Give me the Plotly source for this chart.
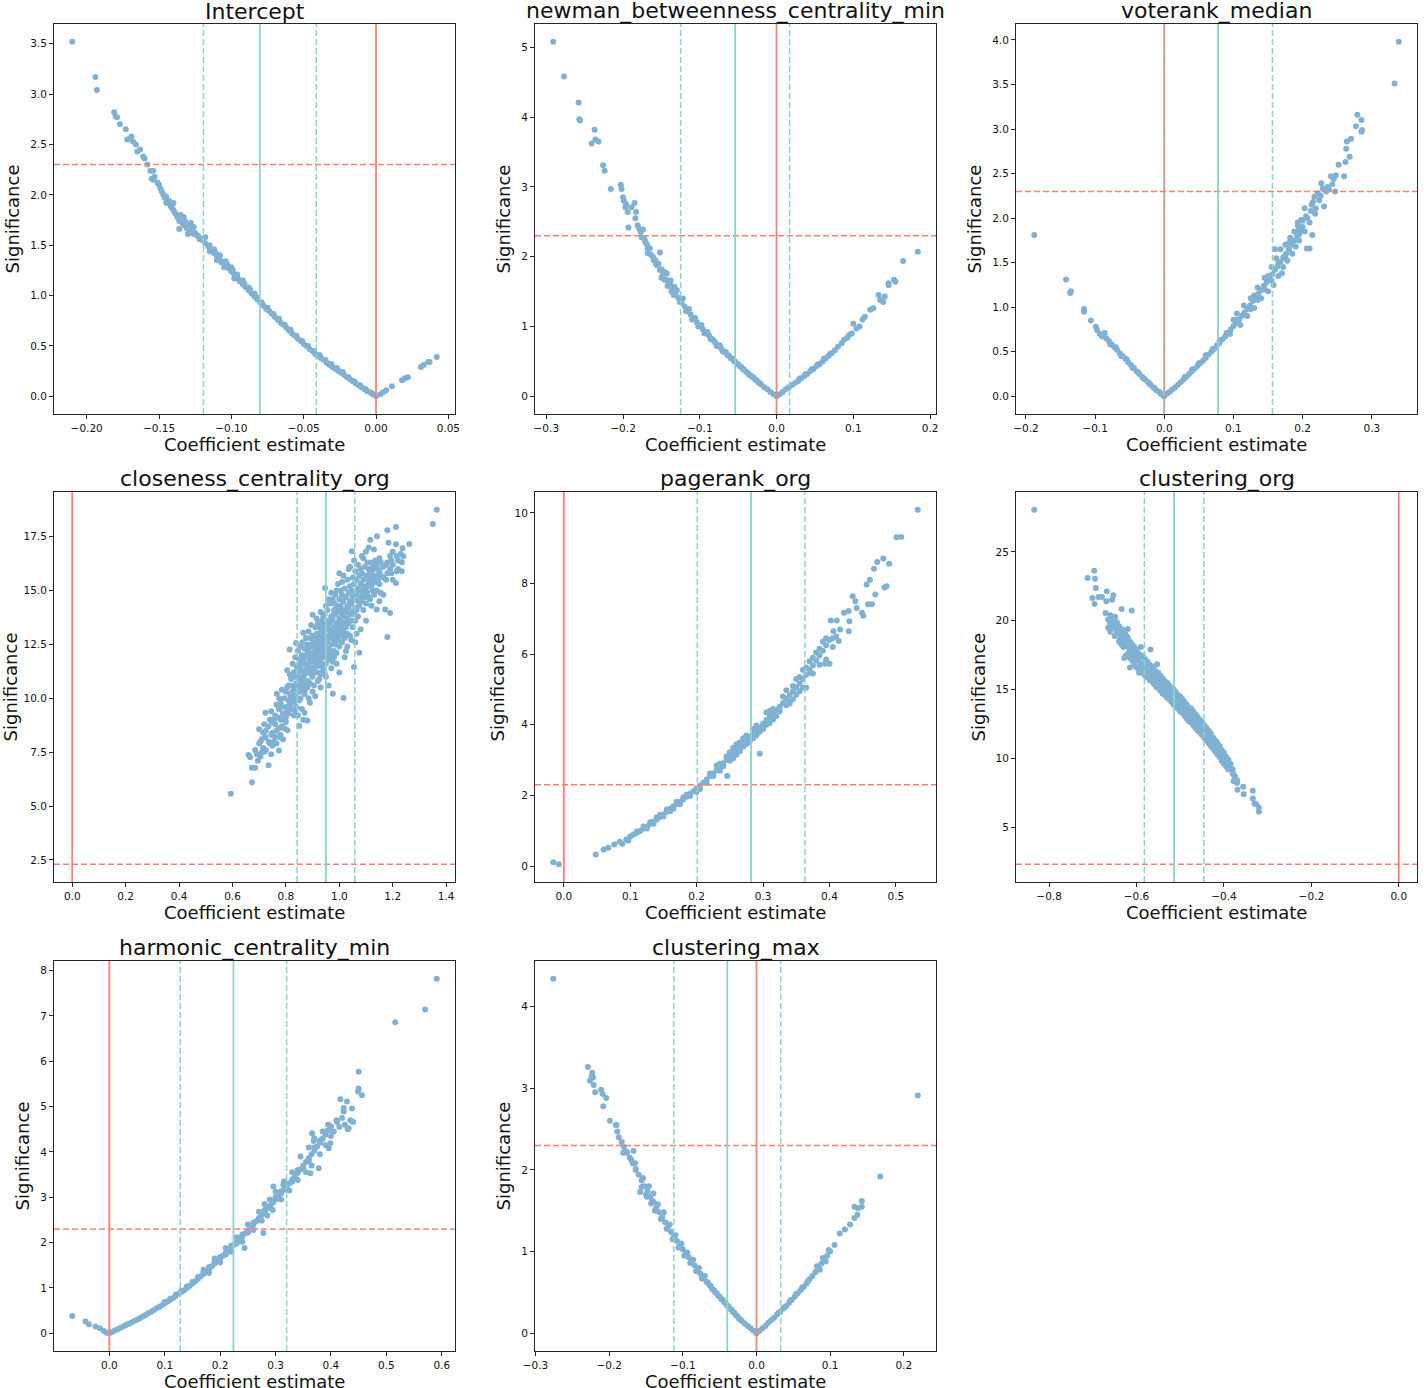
import plotly.graph_objects as go

# ---------------- data ----------------
titles = ["Intercept", "newman_betweenness_centrality_min", "voterank_median",
          "closeness_centrality_org", "pagerank_org", "clustering_org",
          "harmonic_centrality_min", "clustering_max"]

# mean coefficient (solid teal line) and its std (dashed teal lines)
coef_mean = [-0.0803, -0.054, 0.0778, 0.950, 0.282, -0.514, 0.224, -0.0397]
coef_std = [0.039, 0.071, 0.0786, 0.108, 0.081, 0.068, 0.096, 0.0726]
sig_threshold = 2.3

# tick labels
x_ticks = [[-0.20, -0.15, -0.10, -0.05, 0.00, 0.05],
           [-0.3, -0.2, -0.1, 0.0, 0.1, 0.2],
           [-0.2, -0.1, 0.0, 0.1, 0.2, 0.3],
           [0.0, 0.2, 0.4, 0.6, 0.8, 1.0, 1.2, 1.4],
           [0.0, 0.1, 0.2, 0.3, 0.4, 0.5],
           [-0.8, -0.6, -0.4, -0.2, 0.0],
           [0.0, 0.1, 0.2, 0.3, 0.4, 0.5, 0.6],
           [-0.3, -0.2, -0.1, 0.0, 0.1, 0.2]]
x_dec = [2, 1, 1, 1, 1, 1, 1, 1]
y_ticks = [[0.0, 0.5, 1.0, 1.5, 2.0, 2.5, 3.0, 3.5],
           [0, 1, 2, 3, 4, 5],
           [0.0, 0.5, 1.0, 1.5, 2.0, 2.5, 3.0, 3.5, 4.0],
           [2.5, 5.0, 7.5, 10.0, 12.5, 15.0, 17.5],
           [0, 2, 4, 6, 8, 10],
           [5, 10, 15, 20, 25],
           [0, 1, 2, 3, 4, 5, 6, 7, 8],
           [0, 1, 2, 3, 4]]
y_dec = [1, 0, 1, 1, 0, 0, 0, 0]

# points: each entry is (coefficient, significance, [more significances at same coefficient])
intercept_pts = [
    (-0.210, 3.52), (-0.194, 3.17), (-0.193, 3.04), (-0.181, 2.82), (-0.180, 2.78), (-0.179, 2.77),
    (-0.177, 2.70), (-0.173, 2.65), (-0.172, 2.55), (-0.170, 2.56), (-0.169, 2.58), (-0.168, 2.53),
    (-0.166, 2.50), (-0.165, 2.43), (-0.163, 2.45), (-0.161, 2.38), (-0.160, 2.36), (-0.158, 2.30),
    (-0.156, 2.24), (-0.155, 2.16), (-0.154, 2.24, 2.15), (-0.153, 2.18), (-0.151, 2.12), (-0.150, 2.10),
    (-0.149, 2.06), (-0.148, 2.03), (-0.147, 2.00), (-0.146, 1.97), (-0.145, 1.98, 1.92), (-0.144, 1.93),
    (-0.143, 1.94), (-0.142, 1.89), (-0.141, 1.87), (-0.140, 1.85, 1.92), (-0.139, 1.82), (-0.138, 1.80),
    (-0.137, 1.77), (-0.136, 1.74, 1.66), (-0.135, 1.80), (-0.134, 1.72), (-0.133, 1.70, 1.78),
    (-0.132, 1.74), (-0.131, 1.67), (-0.130, 1.69, 1.61), (-0.129, 1.65), (-0.128, 1.66, 1.72),
    (-0.127, 1.63), (-0.126, 1.61, 1.68), (-0.125, 1.62), (-0.124, 1.60), (-0.123, 1.59), (-0.122, 1.56),
    (-0.121, 1.57),
    (-0.120, 1.55), (-0.118, 1.52, 1.58), (-0.116, 1.49), (-0.115, 1.50), (-0.114, 1.45), (-0.112, 1.42, 1.46),
    (-0.110, 1.39, 1.35), (-0.108, 1.36, 1.40), (-0.106, 1.33), (-0.105, 1.28), (-0.104, 1.30, 1.34),
    (-0.102, 1.27), (-0.100, 1.24, 1.28), (-0.098, 1.21, 1.17), (-0.096, 1.18, 1.21), (-0.094, 1.14),
    (-0.092, 1.11, 1.15), (-0.090, 1.08), (-0.088, 1.05, 1.08), (-0.086, 1.02), (-0.084, 0.99, 1.02),
    (-0.082, 0.96), (-0.080, 0.93), (-0.078, 0.90), (-0.076, 0.87), (-0.074, 0.85), (-0.072, 0.82),
    (-0.070, 0.79), (-0.068, 0.76), (-0.066, 0.73), (-0.064, 0.71), (-0.062, 0.68), (-0.060, 0.65),
    (-0.058, 0.62), (-0.056, 0.60), (-0.054, 0.57), (-0.052, 0.55), (-0.050, 0.52), (-0.048, 0.50),
    (-0.046, 0.47), (-0.044, 0.45), (-0.042, 0.42), (-0.040, 0.40), (-0.038, 0.38), (-0.036, 0.36),
    (-0.034, 0.33), (-0.032, 0.31), (-0.030, 0.29), (-0.028, 0.27), (-0.026, 0.25), (-0.024, 0.23),
    (-0.022, 0.21), (-0.020, 0.19), (-0.018, 0.17), (-0.016, 0.15), (-0.014, 0.13), (-0.012, 0.11),
    (-0.010, 0.09), (-0.008, 0.07), (-0.006, 0.05), (-0.004, 0.04), (-0.002, 0.02), (0.000, 0.00),
    (-0.115, 1.44), (-0.111, 1.43), (-0.107, 1.33), (-0.103, 1.31), (-0.099, 1.25), (-0.095, 1.16),
    (-0.091, 1.12), (-0.087, 1.06), (-0.083, 0.99), (-0.079, 0.93), (-0.075, 0.88), (-0.071, 0.82),
    (-0.067, 0.77), (-0.063, 0.71), (-0.059, 0.66), (-0.055, 0.60), (-0.051, 0.55), (-0.047, 0.50),
    (-0.043, 0.45), (-0.039, 0.41), (-0.035, 0.36), (-0.031, 0.32), (-0.027, 0.28), (-0.023, 0.24),
    (-0.019, 0.19), (-0.015, 0.15), (-0.011, 0.11), (-0.007, 0.07), (-0.003, 0.03),
    (0.003, 0.02), (0.005, 0.04), (0.007, 0.06), (0.011, 0.10), (0.018, 0.16), (0.020, 0.18),
    (0.022, 0.19), (0.031, 0.29), (0.033, 0.31), (0.036, 0.34), (0.037, 0.34), (0.042, 0.39),
]

newman_pts = [
    (-0.291, 5.08), (-0.277, 4.58), (-0.258, 4.21), (-0.257, 3.97), (-0.256, 3.95), (-0.237, 3.82),
    (-0.241, 3.62), (-0.236, 3.68), (-0.232, 3.65), (-0.226, 3.31), (-0.224, 3.23), (-0.216, 2.97),
    (-0.203, 3.03), (-0.202, 2.97), (-0.200, 2.85), (-0.199, 2.80), (-0.197, 2.71), (-0.196, 2.75),
    (-0.194, 2.64), (-0.193, 2.42), (-0.189, 2.71), (-0.185, 2.77), (-0.183, 2.64), (-0.184, 2.55),
    (-0.181, 2.45), (-0.179, 2.40), (-0.177, 2.35), (-0.174, 2.39), (-0.176, 2.28), (-0.172, 2.25),
    (-0.171, 2.21), (-0.169, 2.18), (-0.165, 2.12), (-0.168, 2.05), (-0.161, 2.00), (-0.152, 2.06),
    (-0.157, 1.90), (-0.150, 1.82), (-0.143, 1.76), (-0.146, 1.67), (-0.139, 1.62), (-0.133, 1.57),
    (-0.137, 1.50),
    (-0.168, 2.11), (-0.164, 2.03), (-0.160, 1.95), (-0.156, 1.88), (-0.152, 1.81), (-0.148, 1.74),
    (-0.144, 1.67), (-0.140, 1.60), (-0.136, 1.53), (-0.132, 1.47), (-0.128, 1.41), (-0.124, 1.35),
    (-0.120, 1.29), (-0.116, 1.23), (-0.112, 1.17), (-0.108, 1.11), (-0.104, 1.06), (-0.100, 1.01),
    (-0.096, 0.96), (-0.092, 0.91), (-0.088, 0.87), (-0.084, 0.82), (-0.080, 0.77), (-0.076, 0.72),
    (-0.072, 0.68), (-0.068, 0.64), (-0.064, 0.59), (-0.060, 0.55), (-0.056, 0.51), (-0.052, 0.47),
    (-0.048, 0.43), (-0.044, 0.39), (-0.040, 0.35), (-0.036, 0.31), (-0.032, 0.28), (-0.028, 0.24),
    (-0.024, 0.20), (-0.020, 0.17), (-0.016, 0.13), (-0.012, 0.10), (-0.008, 0.06), (-0.004, 0.03),
    (0.000, 0.00),
    (-0.158, 1.95), (-0.154, 1.90), (-0.150, 1.70), (-0.146, 1.78), (-0.142, 1.58), (-0.138, 1.66),
    (-0.134, 1.45), (-0.130, 1.52), (-0.126, 1.35), (-0.122, 1.40), (-0.118, 1.22), (-0.114, 1.25),
    (-0.110, 1.10), (-0.106, 1.12), (-0.102, 1.00), (-0.098, 1.02), (-0.094, 0.90), (-0.090, 0.92),
    (-0.086, 0.82), (-0.082, 0.80), (-0.078, 0.72), (-0.074, 0.73), (-0.070, 0.64),
    (-0.066, 0.63), (-0.062, 0.58), (-0.058, 0.54), (-0.054, 0.50), (-0.050, 0.46), (-0.046, 0.42),
    (-0.042, 0.38), (-0.038, 0.34), (-0.034, 0.30), (-0.030, 0.27), (-0.026, 0.23), (-0.022, 0.19),
    (0.004, 0.03), (0.008, 0.06), (0.012, 0.10), (0.016, 0.13), (0.020, 0.16), (0.024, 0.19),
    (0.028, 0.22), (0.032, 0.26), (0.036, 0.29), (0.040, 0.32), (0.044, 0.36), (0.048, 0.39),
    (0.052, 0.43), (0.056, 0.46), (0.060, 0.50), (0.064, 0.54), (0.068, 0.58), (0.072, 0.62),
    (0.076, 0.66), (0.080, 0.71), (0.085, 0.76), (0.088, 0.81), (0.092, 0.84), (0.095, 0.88),
    (0.030, 0.25), (0.038, 0.32), (0.046, 0.39), (0.054, 0.46), (0.062, 0.54), (0.070, 0.61),
    (0.098, 0.90), (0.100, 1.04), (0.104, 0.97), (0.108, 1.00), (0.112, 1.10), (0.115, 1.14),
    (0.122, 1.24), (0.126, 1.26), (0.133, 1.45), (0.135, 1.38), (0.139, 1.35), (0.141, 1.43),
    (0.146, 1.59, 1.62), (0.153, 1.67), (0.155, 1.64), (0.165, 1.94), (0.184, 2.07),
]

voterank_pts = [
    (-0.188, 1.81), (-0.142, 1.31), (-0.135, 1.18), (-0.136, 1.16), (-0.116, 0.98, 0.95), (-0.106, 0.85),
    (-0.099, 0.78), (-0.097, 0.74), (-0.086, 0.71), (-0.090, 0.67), (-0.093, 0.70),
    (-0.084, 0.65), (-0.080, 0.62), (-0.076, 0.58), (-0.072, 0.55), (-0.068, 0.52), (-0.064, 0.48),
    (-0.060, 0.45), (-0.056, 0.42), (-0.052, 0.38), (-0.048, 0.35), (-0.044, 0.32), (-0.040, 0.28),
    (-0.036, 0.25), (-0.032, 0.22), (-0.028, 0.19), (-0.024, 0.16), (-0.020, 0.13), (-0.016, 0.10),
    (-0.012, 0.07), (-0.008, 0.05), (-0.004, 0.02), (0.000, 0.00),
    (-0.078, 0.58), (-0.070, 0.55), (-0.062, 0.45), (-0.054, 0.41), (-0.046, 0.32), (-0.038, 0.27),
    (-0.030, 0.20), (-0.022, 0.15), (-0.014, 0.09), (-0.006, 0.04),
    (0.004, 0.03), (0.008, 0.05), (0.012, 0.08), (0.016, 0.10), (0.020, 0.13), (0.024, 0.16),
    (0.028, 0.19), (0.032, 0.22), (0.036, 0.25), (0.040, 0.28), (0.044, 0.31), (0.048, 0.34),
    (0.052, 0.37), (0.056, 0.40), (0.060, 0.43), (0.064, 0.47), (0.068, 0.50), (0.072, 0.53),
    (0.076, 0.57), (0.080, 0.60), (0.084, 0.64), (0.088, 0.67), (0.092, 0.71), (0.096, 0.75),
    (0.100, 0.79), (0.104, 0.82), (0.108, 0.86), (0.112, 0.90), (0.116, 0.94), (0.120, 0.98),
    (0.124, 1.02), (0.128, 1.07), (0.132, 1.11), (0.136, 1.15), (0.140, 1.19), (0.144, 1.24),
    (0.148, 1.28), (0.152, 1.32), (0.156, 1.37), (0.160, 1.42), (0.164, 1.46), (0.168, 1.51),
    (0.172, 1.56), (0.176, 1.60), (0.180, 1.65), (0.184, 1.70), (0.188, 1.75), (0.192, 1.80),
    (0.196, 1.85), (0.200, 1.90),
    (0.030, 0.22), (0.040, 0.30), (0.050, 0.37), (0.060, 0.46), (0.070, 0.53), (0.080, 0.63),
    (0.090, 0.71), (0.095, 0.70), (0.105, 0.86), (0.115, 0.92), (0.125, 0.98), (0.130, 1.13),
    (0.135, 1.08), (0.145, 1.20), (0.150, 1.35), (0.155, 1.30), (0.165, 1.50), (0.175, 1.55),
    (0.180, 1.72), (0.185, 1.75), (0.195, 1.82),
    (0.100, 0.86), (0.105, 0.93), (0.110, 0.80), (0.115, 1.02), (0.120, 0.90), (0.125, 1.10),
    (0.130, 0.99), (0.135, 1.22), (0.140, 1.10), (0.145, 1.33), (0.150, 1.18), (0.155, 1.45),
    (0.158, 1.25), (0.162, 1.55), (0.165, 1.35), (0.168, 1.65), (0.172, 1.45), (0.175, 1.70),
    (0.178, 1.52), (0.182, 1.78), (0.185, 1.60), (0.188, 1.85), (0.190, 1.68), (0.193, 1.95),
    (0.195, 1.75), (0.198, 1.98), (0.203, 1.85), (0.205, 2.02), (0.210, 1.95), (0.213, 2.15),
    (0.218, 2.05), (0.206, 1.66), (0.160, 1.65), (0.170, 1.38),
    (0.203, 2.11), (0.207, 2.00), (0.214, 1.81), (0.210, 1.66), (0.198, 1.98), (0.193, 1.92),
    (0.217, 2.24), (0.222, 2.28), (0.231, 2.13), (0.227, 2.39), (0.241, 2.47), (0.236, 2.35),
    (0.248, 2.48), (0.234, 2.30), (0.224, 2.20), (0.219, 2.11), (0.245, 2.44), (0.243, 2.38),
    (0.238, 2.32), (0.229, 2.33), (0.226, 2.25), (0.215, 2.18), (0.212, 2.08), (0.200, 1.97),
    (0.195, 1.88),
    (0.279, 3.16), (0.277, 3.03), (0.285, 3.10), (0.285, 2.97), (0.286, 2.99), (0.270, 2.89),
    (0.264, 2.86), (0.263, 2.78), (0.268, 2.69), (0.262, 2.63), (0.252, 2.60), (0.260, 2.47),
    (0.247, 2.30), (0.333, 3.51), (0.339, 3.98),
]

closeness_pts = [
    (0.594, 5.57), (0.660, 7.37), (0.666, 7.27), (0.673, 6.10, 6.78), (0.685, 6.78, 7.6), (0.691, 7.4),
    (0.700, 8.56, 7.9), (0.710, 7.5, 8.1), (0.719, 7.52, 8.8), (0.723, 9.33, 8.2), (0.735, 6.89, 8.0, 8.7),
    (0.740, 7.9, 9.0), (0.750, 8.4, 8.9, 7.8), (0.760, 8.2, 9.2, 8.8), (0.766, 10.21),
    (0.774, 7.58, 8.6, 9.5), (0.780, 9.0, 8.3, 9.8), (0.789, 8.1, 9.3), (0.800, 9.6, 10.3, 8.9, 9.1),
    (0.806, 8.52), (0.810, 9.9, 10.6, 9.3), (0.814, 12.26), (0.820, 10.1, 10.9, 9.5, 11.0),
    (0.830, 9.8, 10.4, 11.2, 9.2), (0.838, 12.57), (0.840, 10.7, 11.5, 10.0, 9.6),
    (0.850, 11.0, 10.3, 11.8, 8.71, 9.9), (0.860, 11.3, 10.6, 12.0, 9.5, 10.9), (0.865, 13.04),
    (0.870, 11.6, 10.8, 12.3, 9.33, 10.2, 11.1), (0.880, 11.9, 11.2, 12.5, 8.97, 10.5, 11.5),
    (0.890, 12.1, 11.4, 10.7, 12.8, 9.8, 11.8), (0.900, 12.4, 11.7, 13.88, 11.0, 10.3, 12.9),
    (0.910, 12.6, 11.9, 11.2, 13.3, 10.1, 12.2), (0.920, 12.0, 12.8, 11.5, 13.5, 10.8, 12.3),
    (0.930, 12.2, 13.0, 11.7, 14.0, 10.5, 11.1), (0.940, 12.5, 13.2, 11.9, 13.8, 11.3, 12.7),
    (0.947, 15.12), (0.950, 12.7, 13.4, 12.1, 14.3, 11.0, 11.6), (0.960, 12.9, 13.6, 12.3, 14.6, 11.8, 10.6),
    (0.970, 13.1, 13.8, 12.5, 11.4, 14.9, 12.0), (0.976, 10.21), (0.980, 13.3, 12.7, 14.1, 11.9, 12.2, 13.9),
    (0.990, 13.5, 12.9, 14.3, 12.1, 15.0, 11.6), (1.000, 13.7, 15.8, 13.1, 12.4, 14.6, 11.2),
    (1.010, 13.9, 13.3, 14.8, 12.6, 15.4), (1.016, 10.02), (1.020, 14.1, 13.5, 12.8, 15.1, 11.9),
    (1.030, 14.3, 13.7, 13.0, 15.5, 12.4), (1.040, 14.5, 13.9, 15.2, 12.9, 16.1), (1.047, 16.82),
    (1.050, 14.7, 14.0, 15.6, 13.3), (1.055, 11.45), (1.060, 14.9, 14.2, 15.9, 13.6, 12.6),
    (1.070, 15.1, 14.5, 16.2, 13.8), (1.075, 12.11), (1.080, 15.3, 14.7, 16.0, 13.2),
    (1.090, 15.5, 14.9, 16.5, 14.1), (1.100, 15.7, 15.1, 14.4, 16.8, 13.6), (1.110, 15.4, 16.0, 14.7, 17.0),
    (1.116, 17.36), (1.120, 15.8, 15.2, 16.3, 14.3), (1.130, 16.0, 15.5, 14.8, 16.9), (1.141, 17.52),
    (1.140, 15.7, 16.2, 15.0, 14.12), (1.150, 15.9, 16.5, 15.3, 14.5), (1.165, 14.81, 16.1, 15.6),
    (1.172, 14.12), (1.180, 16.3, 15.8, 12.85, 17.8), (1.184, 17.22), (1.190, 16.0, 16.6, 13.96),
    (1.200, 16.2, 15.5, 16.8), (1.212, 17.95, 17.15, 15.35), (1.220, 16.4, 16.0), (1.234, 16.31, 15.9),
    (1.237, 16.96), (1.240, 16.59), (1.262, 17.16), (1.350, 18.09), (1.365, 18.75),
    (0.695, 7.1), (0.705, 8.0, 7.3), (0.715, 8.4, 7.7), (0.725, 7.6, 8.5), (0.745, 8.3, 9.4, 7.4),
    (0.755, 9.0, 8.0), (0.765, 8.5, 9.7, 7.9), (0.775, 9.1, 8.2, 10.0), (0.785, 9.6, 8.7, 10.4),
    (0.795, 10.0, 9.0, 8.6), (0.805, 10.5, 9.4, 11.3), (0.815, 10.2, 9.7, 11.1),
    (0.825, 10.6, 11.6, 9.9, 10.3), (0.835, 11.0, 10.1, 11.9, 9.4), (0.845, 11.2, 10.5, 12.2, 9.2),
    (0.855, 11.5, 10.8, 12.4, 10.0), (0.865, 11.8, 11.0, 10.4, 9.0), (0.875, 12.0, 11.3, 12.8, 10.6),
    (0.885, 12.3, 11.6, 13.1, 10.0), (0.895, 12.5, 11.8, 13.4, 11.1), (0.905, 12.8, 12.1, 11.4, 10.6),
    (0.915, 13.0, 12.4, 11.7, 13.7), (0.925, 12.6, 13.3, 11.9, 10.9), (0.935, 12.9, 13.6, 12.2, 11.5),
    (0.945, 13.1, 13.9, 12.4, 11.2), (0.955, 13.3, 14.1, 12.6, 11.9), (0.965, 13.5, 12.8, 14.4, 12.2),
    (0.975, 13.7, 13.0, 14.6, 11.7), (0.985, 13.9, 13.2, 12.5, 14.8), (0.995, 14.1, 13.4, 12.7, 15.3),
    (1.005, 14.3, 13.6, 12.9, 15.0), (1.015, 14.5, 13.8, 13.1, 15.7), (1.025, 14.7, 14.0, 13.3, 12.2),
    (1.035, 14.9, 14.2, 13.5, 16.0), (1.045, 15.0, 14.4, 13.6, 12.7), (1.055, 15.3, 14.6, 13.9, 16.4),
    (1.065, 15.5, 14.8, 14.1, 13.0), (1.075, 15.7, 15.0, 14.3), (1.085, 15.0, 15.8, 14.5, 16.6),
    (1.095, 15.2, 16.1, 14.7), (1.105, 15.6, 16.3, 14.9), (1.115, 15.9, 15.3, 14.6),
    (1.125, 16.1, 15.6, 15.0), (1.135, 16.4, 15.4), (1.145, 16.0, 15.5), (1.155, 16.3, 15.7, 14.9),
    (1.175, 16.2, 15.5), (1.195, 16.4, 15.8), (1.215, 16.6, 15.9), (1.230, 16.7),
    (0.842, 11.3, 10.4), (0.852, 10.9, 11.6), (0.862, 11.0, 12.6), (0.872, 11.9, 10.4),
    (0.882, 12.2, 10.8), (0.892, 11.2, 12.0), (0.902, 11.4, 12.6), (0.912, 12.4, 11.6),
    (0.922, 12.7, 11.2), (0.932, 12.4, 13.2), (0.942, 12.1, 13.4), (0.952, 12.9, 12.3),
    (0.962, 13.2, 12.0), (0.972, 12.8, 13.6), (0.982, 13.0, 14.4), (0.992, 13.2, 14.0),
    (1.002, 13.5, 14.2), (1.012, 14.0, 13.0),
]

pagerank_pts = [
    (-0.016, 0.11), (-0.0075, 0.05), (0.048, 0.33), (0.060, 0.47), (0.067, 0.52), (0.076, 0.61),
    (0.084, 0.69), (0.088, 0.63), (0.094, 0.75), (0.097, 0.72),
    (0.100, 0.84), (0.105, 0.89), (0.110, 0.94, 0.98), (0.115, 0.99), (0.120, 1.06, 1.12), (0.125, 1.12, 1.06),
    (0.130, 1.19, 1.24), (0.135, 1.26, 1.20), (0.140, 1.32, 1.38), (0.145, 1.39, 1.45), (0.150, 1.46, 1.40),
    (0.155, 1.54, 1.60), (0.160, 1.62, 1.55), (0.165, 1.69, 1.62), (0.170, 1.76, 1.82), (0.175, 1.82, 1.75),
    (0.180, 1.89, 1.95), (0.185, 1.97, 2.02), (0.190, 2.05, 1.98), (0.195, 2.12), (0.200, 2.20, 2.10),
    (0.205, 2.28, 2.18), (0.210, 2.36), (0.215, 2.45, 2.35), (0.220, 2.54, 2.62), (0.225, 2.62, 2.55),
    (0.230, 2.71, 2.85), (0.235, 2.81, 2.70, 2.90), (0.240, 2.91, 2.82), (0.245, 3.00, 3.10),
    (0.246, 2.55), (0.250, 3.10, 3.22, 2.98), (0.255, 3.20, 3.35, 3.05), (0.260, 3.30, 3.15, 3.45),
    (0.265, 3.39, 3.25, 3.50), (0.270, 3.49, 3.62, 3.38), (0.275, 3.57, 3.70, 3.45), (0.280, 3.67, 3.52),
    (0.285, 3.76, 3.62, 3.88), (0.290, 3.85, 3.98, 3.70), (0.295, 3.93, 3.18, 3.80), (0.300, 4.03, 3.88),
    (0.305, 4.13, 4.35, 4.00), (0.310, 4.23, 4.40, 4.05), (0.315, 4.33, 4.15, 4.45), (0.320, 4.42, 4.25),
    (0.325, 4.51, 4.38), (0.330, 4.62, 4.80), (0.335, 4.73, 4.98, 4.55), (0.340, 4.84, 4.65, 4.60),
    (0.345, 4.95, 4.72, 5.10), (0.350, 5.06, 5.30, 4.85), (0.355, 5.17, 4.95, 5.35), (0.360, 5.30, 5.55, 5.05),
    (0.365, 5.42, 5.05, 5.62), (0.370, 5.55, 5.80), (0.371, 5.47), (0.375, 5.68, 5.45, 5.90),
    (0.380, 5.82, 6.05), (0.385, 5.96, 5.70, 6.15), (0.390, 6.10, 6.35), (0.393, 5.73),
    (0.395, 6.25, 5.85, 6.45), (0.400, 6.40, 5.73), (0.405, 6.20, 6.45), (0.410, 6.50),
    (0.402, 6.95), (0.411, 6.95), (0.406, 6.65), (0.414, 6.37), (0.416, 6.70), (0.429, 6.65, 7.22),
    (0.422, 7.17), (0.430, 6.93), (0.435, 7.64), (0.439, 7.50), (0.441, 7.31), (0.449, 7.17),
    (0.451, 7.09), (0.456, 7.97), (0.458, 7.41), (0.464, 7.41), (0.461, 8.11), (0.469, 7.69),
    (0.467, 8.42), (0.472, 8.61), (0.481, 8.71), (0.483, 7.89), (0.486, 7.92), (0.490, 8.56),
    (0.501, 9.31), (0.508, 9.32), (0.533, 10.09),
]

clustering_org_pts = [
    (-0.834, 28.07), (-0.712, 23.11), (-0.697, 23.64), (-0.695, 23.06), (-0.693, 22.38), (-0.701, 21.66),
    (-0.696, 21.22), (-0.687, 21.73), (-0.679, 21.73), (-0.668, 22.15), (-0.669, 21.42), (-0.653, 21.85),
    (-0.656, 21.53), (-0.634, 20.86), (-0.611, 20.74), (-0.671, 20.57), (-0.660, 19.96), (-0.629, 18.14),
    (-0.602, 17.91), (-0.594, 16.22), (-0.568, 17.91), (-0.553, 16.83),
    (-0.649, 20.3), (-0.644, 19.2), (-0.620, 19.4), (-0.628, 17.3), (-0.615, 16.6), (-0.590, 18.1),
    (-0.665, 20.1, 19.5), (-0.660, 19.8, 20.4, 19.2), (-0.655, 19.6, 20.2), (-0.650, 19.5, 20.0, 18.9),
    (-0.645, 19.3, 19.9), (-0.640, 19.1, 19.6, 18.5), (-0.635, 18.9, 19.4, 18.3), (-0.630, 18.6, 19.3, 18.1),
    (-0.625, 18.4, 17.43, 19.0), (-0.620, 18.2, 18.8, 17.6), (-0.615, 17.9, 18.5, 17.3),
    (-0.610, 17.7, 18.3, 17.1), (-0.605, 17.4, 18.1, 16.8), (-0.600, 17.2, 17.8, 16.6),
    (-0.595, 17.1, 17.6, 16.5), (-0.590, 16.9, 17.5, 16.3), (-0.585, 16.8, 17.4, 16.2),
    (-0.580, 16.6, 17.2, 16.0), (-0.575, 16.4, 17.0, 15.9), (-0.570, 16.3, 16.8, 15.7),
    (-0.565, 16.1, 16.7, 15.6), (-0.560, 15.9, 16.5, 15.4), (-0.555, 15.8, 16.3, 15.2),
    (-0.550, 15.6, 16.2, 15.1), (-0.545, 15.4, 16.0, 14.9), (-0.540, 15.2, 15.8, 14.7),
    (-0.535, 15.1, 15.6, 14.6), (-0.530, 14.9, 15.5, 14.4), (-0.525, 14.8, 15.3, 14.3),
    (-0.520, 14.6, 15.1, 14.1), (-0.515, 14.4, 15.0, 13.9), (-0.510, 14.3, 14.8, 13.8),
    (-0.505, 14.1, 14.6, 13.6), (-0.500, 13.9, 14.5, 13.4), (-0.495, 13.8, 14.3, 13.3),
    (-0.490, 13.6, 14.1, 13.1), (-0.485, 13.4, 13.9, 12.9), (-0.480, 13.2, 13.7, 12.7),
    (-0.475, 13.1, 13.6, 12.6), (-0.470, 12.9, 13.4, 12.4), (-0.465, 12.7, 13.2, 12.2),
    (-0.460, 12.5, 13.0, 12.0), (-0.455, 12.3, 12.8, 11.9), (-0.450, 12.1, 12.6, 11.7),
    (-0.445, 11.9, 12.4, 11.5), (-0.440, 11.7, 12.2, 11.3), (-0.435, 11.5, 12.0, 11.1),
    (-0.430, 11.3, 11.8, 10.9), (-0.425, 11.1, 11.5, 10.7), (-0.420, 10.9, 11.3, 10.5),
    (-0.415, 10.7, 11.1, 10.3), (-0.410, 10.5, 10.9, 10.1), (-0.405, 10.2, 10.6, 9.8),
    (-0.400, 10.0, 10.4, 9.6), (-0.395, 9.8, 10.1, 9.4), (-0.390, 9.5, 9.9, 9.2), (-0.385, 9.3, 9.6),
    (-0.380, 8.9, 9.2), (-0.375, 8.7, 8.5), (-0.370, 8.4, 8.2),
    (-0.6475, 19.6), (-0.6375, 18.7), (-0.6275, 18.8), (-0.6175, 18.0), (-0.6075, 17.3), (-0.5975, 17.4),
    (-0.5875, 16.6), (-0.5775, 16.8), (-0.5675, 16.0), (-0.5575, 16.1), (-0.5475, 15.3), (-0.5375, 15.5),
    (-0.5275, 14.6), (-0.5175, 14.9), (-0.5075, 14.0), (-0.4975, 14.2), (-0.4875, 13.3), (-0.4775, 13.5),
    (-0.4675, 12.6), (-0.4575, 12.8), (-0.4475, 11.8), (-0.4375, 12.0), (-0.4275, 11.0), (-0.4175, 11.2),
    (-0.4075, 10.2), (-0.3975, 10.1), (-0.3875, 9.2), (-0.3775, 8.8),
    (-0.378, 8.36), (-0.369, 7.71), (-0.356, 7.93), (-0.355, 7.39), (-0.334, 7.64, 7.08),
    (-0.330, 6.72), (-0.320, 6.43, 6.11), (-0.326, 6.67),
]

harmonic_pts = [
    (-0.067, 0.38), (-0.043, 0.26), (-0.037, 0.20), (-0.025, 0.15), (-0.017, 0.11), (-0.010, 0.05),
    (-0.005, 0.01), (0.000, 0.00),
    (0.005, 0.03), (0.010, 0.06), (0.015, 0.09), (0.020, 0.12), (0.025, 0.15), (0.030, 0.18),
    (0.035, 0.21), (0.040, 0.24), (0.045, 0.27), (0.050, 0.30), (0.055, 0.33), (0.060, 0.37),
    (0.065, 0.40), (0.070, 0.44), (0.075, 0.47), (0.080, 0.51), (0.085, 0.55), (0.090, 0.58),
    (0.095, 0.62), (0.100, 0.66, 0.69), (0.105, 0.70), (0.110, 0.74, 0.76), (0.115, 0.78), (0.120, 0.82, 0.85),
    (0.125, 0.87), (0.130, 0.91, 0.93), (0.135, 0.95), (0.140, 1.00, 1.03), (0.145, 1.05), (0.150, 1.10, 1.13),
    (0.155, 1.15), (0.160, 1.20, 1.24), (0.165, 1.26), (0.170, 1.31, 1.40, 1.34), (0.175, 1.37),
    (0.180, 1.42, 1.33, 1.46), (0.185, 1.48), (0.190, 1.54, 1.65, 1.57), (0.195, 1.60),
    (0.200, 1.65, 1.56, 1.68), (0.205, 1.71), (0.210, 1.77, 1.88, 1.74), (0.215, 1.83),
    (0.220, 1.89, 1.80, 1.93), (0.225, 1.95), (0.230, 2.01, 2.12, 1.98), (0.235, 2.07),
    (0.240, 2.13, 2.02, 2.18), (0.245, 2.20), (0.250, 2.26, 2.40, 2.22), (0.255, 2.33),
    (0.260, 2.40, 2.28, 2.44), (0.265, 2.47), (0.270, 2.54, 2.68, 2.50), (0.275, 2.61, 2.48),
    (0.280, 2.68, 2.85, 2.72), (0.285, 2.75, 2.60), (0.290, 2.82, 2.95, 2.78), (0.295, 2.88, 2.72),
    (0.300, 2.95, 3.12, 3.00), (0.305, 3.02), (0.310, 3.09, 2.95, 3.13), (0.315, 3.16, 3.35),
    (0.320, 3.24, 3.30), (0.325, 3.31, 3.15), (0.330, 3.39, 3.55, 3.34), (0.335, 3.46),
    (0.340, 3.54, 3.38, 3.60), (0.345, 3.62, 3.90), (0.350, 3.70, 3.64), (0.355, 3.78, 3.55),
    (0.360, 3.86, 4.10, 3.80), (0.365, 3.95, 3.70), (0.370, 4.03, 4.30, 4.10), (0.375, 4.12),
    (0.380, 4.20, 3.95, 4.25), (0.385, 4.29, 4.45), (0.390, 4.38, 4.15, 4.45), (0.395, 4.47, 4.60),
    (0.400, 4.56, 4.35), (0.410, 4.70), (0.415, 4.55), (0.420, 4.75), (0.425, 4.60), (0.430, 4.50),
    (0.435, 4.70),
    (0.516, 6.86), (0.570, 7.14), (0.591, 7.82), (0.450, 5.77, 5.40), (0.456, 5.25), (0.449, 5.33),
    (0.417, 5.16), (0.429, 5.11), (0.423, 4.97, 4.89), (0.438, 4.96), (0.432, 4.52), (0.405, 4.45),
    (0.396, 4.08), (0.411, 4.66), (0.366, 4.41), (0.369, 4.24), (0.399, 4.19), (0.378, 3.64),
    (0.363, 3.53), (0.278, 2.21), (0.244, 1.88), (0.296, 3.24), (0.314, 3.27), (0.440, 4.66),
]

clustering_max_pts = [
    (-0.276, 4.34), (-0.229, 3.26), (-0.226, 3.09), (-0.224, 3.14), (-0.222, 3.13), (-0.223, 3.19),
    (-0.221, 3.04), (-0.219, 2.95), (-0.211, 2.98), (-0.209, 2.93), (-0.208, 2.78), (-0.204, 2.88),
    (-0.199, 2.60), (-0.191, 2.55), (-0.190, 2.55), (-0.189, 2.47), (-0.187, 2.40), (-0.183, 2.34),
    (-0.180, 2.28), (-0.181, 2.21), (-0.176, 2.21), (-0.167, 2.23), (-0.170, 2.12), (-0.165, 2.08),
    (-0.164, 2.00), (-0.154, 1.90), (-0.156, 1.79), (-0.158, 1.73), (-0.149, 1.67), (-0.140, 1.71),
    (-0.143, 1.59),
    (-0.176, 2.22), (-0.172, 2.15), (-0.168, 2.08), (-0.164, 2.01), (-0.160, 1.94), (-0.156, 1.87),
    (-0.152, 1.80), (-0.148, 1.74), (-0.144, 1.67), (-0.140, 1.61), (-0.136, 1.54), (-0.132, 1.48),
    (-0.128, 1.42), (-0.124, 1.36), (-0.120, 1.30), (-0.116, 1.24), (-0.112, 1.18), (-0.108, 1.13),
    (-0.104, 1.08), (-0.100, 1.03), (-0.096, 0.98), (-0.092, 0.93), (-0.088, 0.88), (-0.084, 0.83),
    (-0.080, 0.78), (-0.076, 0.73), (-0.072, 0.68), (-0.068, 0.63), (-0.064, 0.59), (-0.060, 0.54),
    (-0.056, 0.50), (-0.052, 0.46), (-0.048, 0.42), (-0.044, 0.38), (-0.040, 0.34), (-0.036, 0.30),
    (-0.032, 0.26), (-0.028, 0.22), (-0.024, 0.18), (-0.020, 0.15), (-0.016, 0.12), (-0.012, 0.09),
    (-0.008, 0.06), (-0.004, 0.03), (0.000, 0.00),
    (-0.150, 1.70), (-0.146, 1.80), (-0.142, 1.62), (-0.138, 1.50), (-0.134, 1.58), (-0.130, 1.40),
    (-0.126, 1.48), (-0.122, 1.28), (-0.118, 1.33), (-0.114, 1.15), (-0.110, 1.20), (-0.106, 1.05),
    (-0.102, 1.10), (-0.098, 0.95), (-0.094, 0.99), (-0.090, 0.86), (-0.086, 0.90), (-0.082, 0.76),
    (-0.078, 0.80), (-0.074, 0.67), (-0.070, 0.70),
    (-0.066, 0.62), (-0.062, 0.58), (-0.058, 0.53), (-0.054, 0.49), (-0.050, 0.45), (-0.046, 0.41),
    (-0.042, 0.37), (-0.038, 0.33), (-0.034, 0.29), (-0.030, 0.25), (-0.026, 0.21), (-0.022, 0.17),
    (0.004, 0.03), (0.008, 0.06), (0.012, 0.09), (0.016, 0.13), (0.020, 0.16), (0.024, 0.19),
    (0.028, 0.23), (0.032, 0.26), (0.036, 0.30), (0.040, 0.33), (0.044, 0.37), (0.048, 0.41),
    (0.052, 0.45), (0.056, 0.49), (0.060, 0.53), (0.064, 0.57), (0.068, 0.61), (0.072, 0.66),
    (0.076, 0.70), (0.080, 0.75), (0.084, 0.80), (0.088, 0.85), (0.092, 0.90), (0.096, 0.95),
    (0.030, 0.25), (0.038, 0.32), (0.046, 0.40), (0.054, 0.48), (0.062, 0.56), (0.070, 0.64),
    (0.100, 1.00), (0.082, 0.82), (0.086, 0.78), (0.090, 0.92), (0.094, 0.88), (0.098, 1.02),
    (0.106, 1.08), (0.113, 1.22), (0.120, 1.27), (0.127, 1.33), (0.133, 1.41, 1.55), (0.137, 1.45),
    (0.138, 1.53), (0.143, 1.62, 1.55), (0.168, 1.92), (0.219, 2.91),
]

all_points = [intercept_pts, newman_pts, voterank_pts, closeness_pts,
              pagerank_pts, clustering_org_pts, harmonic_pts, clustering_max_pts]

# ---------------- styling ----------------
POINT = "#80b1d3"
TEAL = "#8dd3c7"
RED = "#fb8072"
AX = "#262626"
FONT = "DejaVu Sans"
W, H = 1424, 1388
col_px = [(54, 455), (535, 936), (1016, 1417)]
row_px = [(24, 414), (492, 882), (961, 1351)]


def fmt(v, d):
    s = f"{v:.{d}f}"
    return s.replace("-", "\u2212")


fig = go.Figure()
shapes = []
annotations = []
layout = {}

for i, pts in enumerate(all_points):
    r, c = divmod(i, 3)
    xs, ys = [], []
    for p in pts:
        for yv in p[1:]:
            xs.append(p[0])
            ys.append(yv)
    n = "" if i == 0 else str(i + 1)
    xa, ya = "x" + n, "y" + n
    fig.add_trace(go.Scatter(x=xs, y=ys, mode="markers", xaxis=xa, yaxis=ya,
                             marker=dict(color=POINT, size=6, line=dict(width=0)),
                             showlegend=False, hoverinfo="skip"))
    m, s = coef_mean[i], coef_std[i]
    xlo = min(min(xs), 0.0, m - s)
    xhi = max(max(xs), 0.0, m + s)
    ylo = min(min(ys), sig_threshold)
    yhi = max(max(ys), sig_threshold)
    px_, py_ = 0.05 * (xhi - xlo), 0.05 * (yhi - ylo)
    x0p, x1p = col_px[c]
    y0p, y1p = row_px[r]
    xdom = [x0p / W, x1p / W]
    ydom = [1 - y1p / H, 1 - y0p / H]
    common = dict(showline=True, mirror=True, linecolor=AX, linewidth=1,
                  ticks="outside", ticklen=4, tickwidth=1, tickcolor=AX,
                  showgrid=False, zeroline=False, automargin=False,
                  tickfont=dict(family=FONT, size=10.5, color="#111"))
    layout["xaxis" + n] = dict(domain=xdom, anchor=ya, range=[xlo - px_, xhi + px_],
                               tickvals=x_ticks[i], ticktext=[fmt(v, x_dec[i]) for v in x_ticks[i]],
                               **common)
    layout["yaxis" + n] = dict(domain=ydom, anchor=xa, range=[ylo - py_, yhi + py_],
                               tickvals=y_ticks[i], ticktext=[fmt(v, y_dec[i]) for v in y_ticks[i]],
                               title=dict(text="Significance", standoff=5,
                                          font=dict(family=FONT, size=18, color="#111")),
                               **common)
    xd = xa + " domain"
    yd = ya + " domain"
    # red reference lines
    shapes.append(dict(type="line", xref=xa, yref=yd, x0=0, x1=0, y0=0, y1=1,
                       line=dict(color=RED, width=1.8)))
    shapes.append(dict(type="line", xref=xd, yref=ya, x0=0, x1=1, y0=sig_threshold, y1=sig_threshold,
                       line=dict(color=RED, width=1.5, dash="6px,3px")))
    # teal mean / std lines
    shapes.append(dict(type="line", xref=xa, yref=yd, x0=m, x1=m, y0=0, y1=1,
                       line=dict(color=TEAL, width=1.8)))
    for v in (m - s, m + s):
        shapes.append(dict(type="line", xref=xa, yref=yd, x0=v, x1=v, y0=0, y1=1,
                           line=dict(color=TEAL, width=1.5, dash="6px,3px")))
    xc = (xdom[0] + xdom[1]) / 2
    annotations.append(dict(text=titles[i], xref="paper", yref="paper",
                            x=xc, y=ydom[1], xanchor="center", yanchor="bottom",
                            yshift=-2, showarrow=False,
                            font=dict(family=FONT, size=22, color="#111")))
    annotations.append(dict(text="Coefficient estimate", xref="paper", yref="paper",
                            x=xc, y=ydom[0], xanchor="center", yanchor="middle",
                            yshift=-30, showarrow=False,
                            font=dict(family=FONT, size=18, color="#111")))

fig.update_layout(width=W, height=H, margin=dict(l=0, r=0, t=0, b=0),
                  paper_bgcolor="white", plot_bgcolor="white",
                  shapes=shapes, annotations=annotations, **layout)
fig.write_html("out.html", config={"displayModeBar": False},
               post_script="document.body.style.margin='0';document.body.style.overflow='hidden';")
